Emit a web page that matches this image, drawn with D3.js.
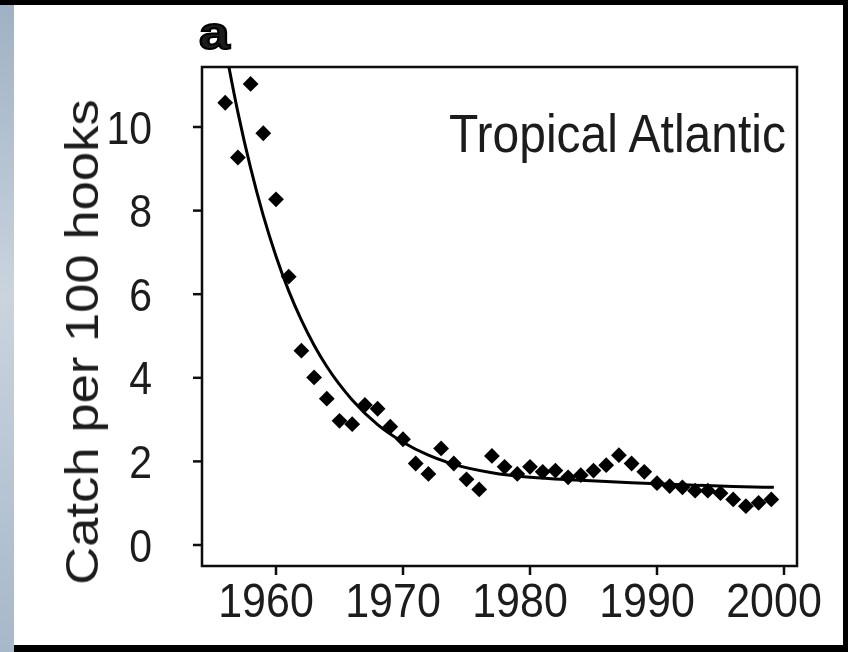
<!DOCTYPE html>
<html>
<head>
<meta charset="utf-8">
<script src="https://d3js.org/d3.v7.min.js"></script>
<style>
  body { margin: 0; background: #000; }
  svg { display: block; }
  text { font-family: "Liberation Sans", Arial, sans-serif; fill: #1c1c1c; }
</style>
</head>
<body>
<svg id="chart"></svg>
<script>
// catch rate, one point per year
const years = [1956,1957,1958,1959,1960,1961,1962,1963,1964,1965,1966,1967,1968,1969,
  1970,1971,1972,1973,1974,1975,1976,1977,1978,1979,1980,1981,1982,1983,1984,1985,
  1986,1987,1988,1989,1990,1991,1992,1993,1994,1995,1996,1997,1998,1999];
const catchRate = [10.58,9.27,11.03,9.85,8.27,6.42,4.65,4.01,3.50,2.97,2.89,3.35,3.26,2.83,
  2.53,1.95,1.70,2.31,1.95,1.57,1.33,2.13,1.87,1.70,1.87,1.75,1.78,1.62,1.67,1.78,
  1.91,2.15,1.95,1.75,1.48,1.41,1.38,1.30,1.30,1.24,1.09,0.93,1.01,1.09];

// fitted curve
const fitYears  = [1956,1957,1958,1959,1960,1961,1962,1963,1964,1966,1968,1970,1972,1974,1977,1980,1984,1988,1992,1996,1999.2];
const fitValues = [11.9,10.35,9.02,7.88,6.91,6.08,5.38,4.78,4.27,3.47,2.88,2.46,2.15,1.93,1.73,1.62,1.55,1.49,1.44,1.40,1.38];

const xTicks = [1960,1970,1980,1990,2000];
const yTicks = [0,2,4,6,8,10];
const yTitle = "Catch per 100 hooks";
const regionLabel = "Tropical Atlantic";
const panelLabel = "a";

const W = 848, H = 652;
const frame = {left: 202, top: 67, right: 797, bottom: 566};
const stretch = 1.12; // text in the figure is a little taller than wide

const svg = d3.select("#chart").attr("width", W).attr("height", H);

// background: black border, bluish strip on the left, white panel
const defs = svg.append("defs");
const grad = defs.append("linearGradient").attr("id", "strip")
  .attr("x1", 0).attr("y1", 0).attr("x2", 0).attr("y2", 1);
grad.append("stop").attr("offset", "0%").attr("stop-color", "#9fb1c4");
grad.append("stop").attr("offset", "45%").attr("stop-color", "#c9d4de");
grad.append("stop").attr("offset", "100%").attr("stop-color", "#a7b8ca");

defs.append("filter").attr("id", "soft")
  .append("feGaussianBlur").attr("stdDeviation", 0.6);

defs.append("clipPath").attr("id", "plotclip")
  .append("rect")
  .attr("x", frame.left).attr("y", frame.top)
  .attr("width", frame.right - frame.left).attr("height", frame.bottom - frame.top);

svg.append("rect").attr("width", W).attr("height", H).attr("fill", "#000");
svg.append("rect").attr("x", 0).attr("y", 5).attr("width", 14).attr("height", H - 5)
  .attr("fill", "url(#strip)");
svg.append("rect").attr("x", 14).attr("y", 5).attr("width", 829).attr("height", 640)
  .attr("fill", "#fff");

const x = d3.scaleLinear().domain([1960, 2000]).range([276, 784]);
const y = d3.scaleLinear().domain([0, 10]).range([545, 127]);

const g = svg.append("g").attr("filter", "url(#soft)");

// frame
g.append("rect")
  .attr("x", frame.left).attr("y", frame.top)
  .attr("width", frame.right - frame.left).attr("height", frame.bottom - frame.top)
  .attr("fill", "none").attr("stroke", "#111").attr("stroke-width", 2.5);

// x ticks
g.selectAll(".xt").data(xTicks).enter().append("line")
  .attr("x1", d => x(d)).attr("x2", d => x(d))
  .attr("y1", frame.bottom).attr("y2", frame.bottom + 9)
  .attr("stroke", "#111").attr("stroke-width", 2.5);

g.selectAll(".xl").data(xTicks).enter().append("g")
  .attr("transform", d => `translate(${x(d) - 10},600) scale(1,${stretch})`)
  .append("text")
  .attr("text-anchor", "middle").attr("dy", "0.36em")
  .attr("font-size", 43)
  .text(d => d);

// y ticks
g.selectAll(".yt").data(yTicks).enter().append("line")
  .attr("x1", frame.left - 9).attr("x2", frame.left)
  .attr("y1", d => y(d)).attr("y2", d => y(d))
  .attr("stroke", "#111").attr("stroke-width", 2.5);

g.selectAll(".yl").data(yTicks).enter().append("g")
  .attr("transform", d => `translate(152,${y(d)}) scale(1,${stretch})`)
  .append("text")
  .attr("text-anchor", "end").attr("dy", "0.36em")
  .attr("font-size", 41)
  .text(d => d);

// y title
g.append("g")
  .attr("transform", `translate(82,342) scale(1,${stretch}) rotate(-90)`)
  .append("text")
  .attr("text-anchor", "middle").attr("dy", "0.35em")
  .attr("font-size", 47)
  .text(yTitle);

// region label
g.append("g")
  .attr("transform", `translate(786,152) scale(1,${stretch})`)
  .append("text")
  .attr("text-anchor", "end")
  .attr("font-size", 48)
  .text(regionLabel);

// panel letter
g.append("g")
  .attr("transform", "translate(199,49) scale(1.2,1.02)")
  .append("text")
  .attr("font-family", "'DejaVu Sans', sans-serif")
  .attr("font-weight", "bold")
  .attr("font-size", 46)
  .attr("fill", "#000")
  .attr("stroke", "#000").attr("stroke-width", 2)
  .text(panelLabel);

const plot = g.append("g").attr("clip-path", "url(#plotclip)");

// fitted curve
const line = d3.line()
  .x(d => x(d[0]))
  .y(d => y(d[1]))
  .curve(d3.curveMonotoneX);

plot.append("path")
  .datum(d3.zip(fitYears, fitValues))
  .attr("d", line)
  .attr("fill", "none")
  .attr("stroke", "#000")
  .attr("stroke-width", 3);

// data points as diamonds
const diamond = d3.symbol().type(d3.symbolSquare).size(125);
plot.selectAll(".pt").data(d3.zip(years, catchRate)).enter().append("path")
  .attr("d", diamond)
  .attr("transform", d => `translate(${x(d[0])},${y(d[1])}) rotate(45)`)
  .attr("fill", "#000");
</script>
</body>
</html>
